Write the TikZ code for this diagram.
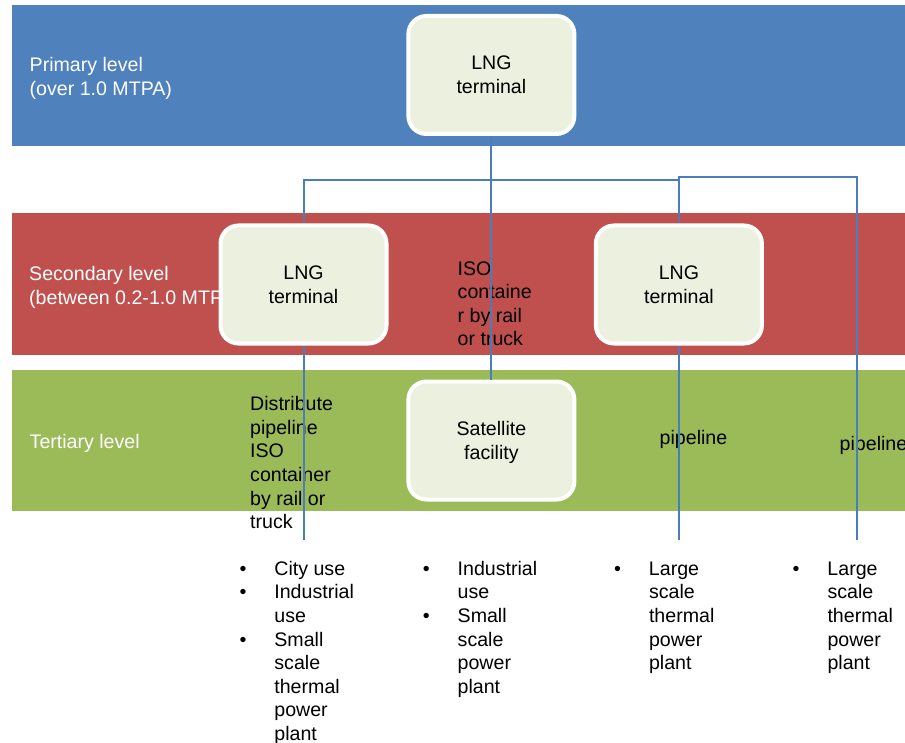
\documentclass[tikz,border=0pt]{standalone}
\usepackage{fontspec}
\setmainfont{Liberation Sans}
\definecolor{bandblue}{HTML}{4F81BD}
\definecolor{bandred}{HTML}{C0504D}
\definecolor{bandgreen}{HTML}{9BBB59}
\definecolor{boxfill}{HTML}{EBF1DE}
\definecolor{connblue}{HTML}{4A7EBB}
\tikzset{
  txt/.style={inner sep=0pt, font=\fontsize{19.6}{23.6}\selectfont, align=left, anchor=north west},
  wtxt/.style={txt, text=white},
  boxn/.style={draw=white, line width=4pt, fill=boxfill, rounded corners=18pt,
    minimum width=166pt, minimum height=118pt, inner sep=0pt, align=center,
    font=\fontsize{19.6}{23.6}\selectfont},
  bul/.style={inner sep=0pt, font=\fontsize{19.6}{23.6}\selectfont, anchor=north west},
  conn/.style={draw=connblue, line width=2pt}
}
\begin{document}
\begin{tikzpicture}[x=1pt,y=-1pt]
\useasboundingbox (0,0) rectangle (905,743);
\clip (0,0) rectangle (905,743);
% bands
\fill[bandblue] (12,5) rectangle (905,146);
\fill[bandred] (12,213) rectangle (905,355);
\fill[bandgreen] (12,370) rectangle (905,511);
% band labels
\node[wtxt] (lprim) at (29.5,57.2) {Primary level\\(over 1.0 MTPA)};
\node[wtxt] (lsec) at (29,266.2) {Secondary level\\(between 0.2-1.0 MTPA)};
\node[wtxt] (lter) at (29.5,434.2) {Tertiary level};
% connector labels
\node[txt] (iso) at (457.5,261.2) {ISO\\containe\\r by rail\\or truck};
\node[txt] (dist) at (250,396.2) {Distribute\\pipeline\\ISO\\container\\by rail or\\truck};
\node[txt] (pipe1) at (659.5,430.2) {pipeline};
\node[txt] (pipe2) at (839.5,436.2) {pipeline};
% boxes
\node[boxn] (top) at (491.4,75) {LNG\\terminal};
\node[boxn] (sec1) at (303.5,284.5) {LNG\\terminal};
\node[boxn] (sec2) at (678.9,284.5) {LNG\\terminal};
\node[boxn] (sat) at (491.4,440.5) {Satellite\\facilit\smash{y}};
% bullet lists
\node[bul] (b1) at (239.4,558.5) {\begin{tabular}{@{}p{34.8pt}@{}l@{}}•&City use\\•&Industrial\\&use\\•&Small\\&scale\\&thermal\\&power\\&plant\end{tabular}};
\node[bul] (b2) at (422.7,558.5) {\begin{tabular}{@{}p{34.8pt}@{}l@{}}•&Industrial\\&use\\•&Small\\&scale\\&power\\&plant\end{tabular}};
\node[bul] (b3) at (614,558.5) {\begin{tabular}{@{}p{34.8pt}@{}l@{}}•&Large\\&scale\\&thermal\\&power\\&plant\end{tabular}};
\node[bul] (b4) at (792.5,558.5) {\begin{tabular}{@{}p{34.8pt}@{}l@{}}•&Large\\&scale\\&thermal\\&power\\&plant\end{tabular}};
% connectors
\coordinate (jl) at (303.5,180);
\coordinate (jr) at (678.9,180);
\coordinate (kr) at (678.9,177);
\coordinate (kf) at (857,177);
\coordinate (e1) at (303.5,540);
\coordinate (e3) at (678.9,540);
\coordinate (e4) at (857,540);
\draw[conn] (top.south) -- (sat.north);
\draw[conn] (sec1.north) -- (jl) -- (jr);
\draw[conn] (sec2.north) -- (kr) -- (kf) -- (e4);
\draw[conn] (sec1.south) -- (e1);
\draw[conn] (sec2.south) -- (e3);
\end{tikzpicture}
\end{document}
